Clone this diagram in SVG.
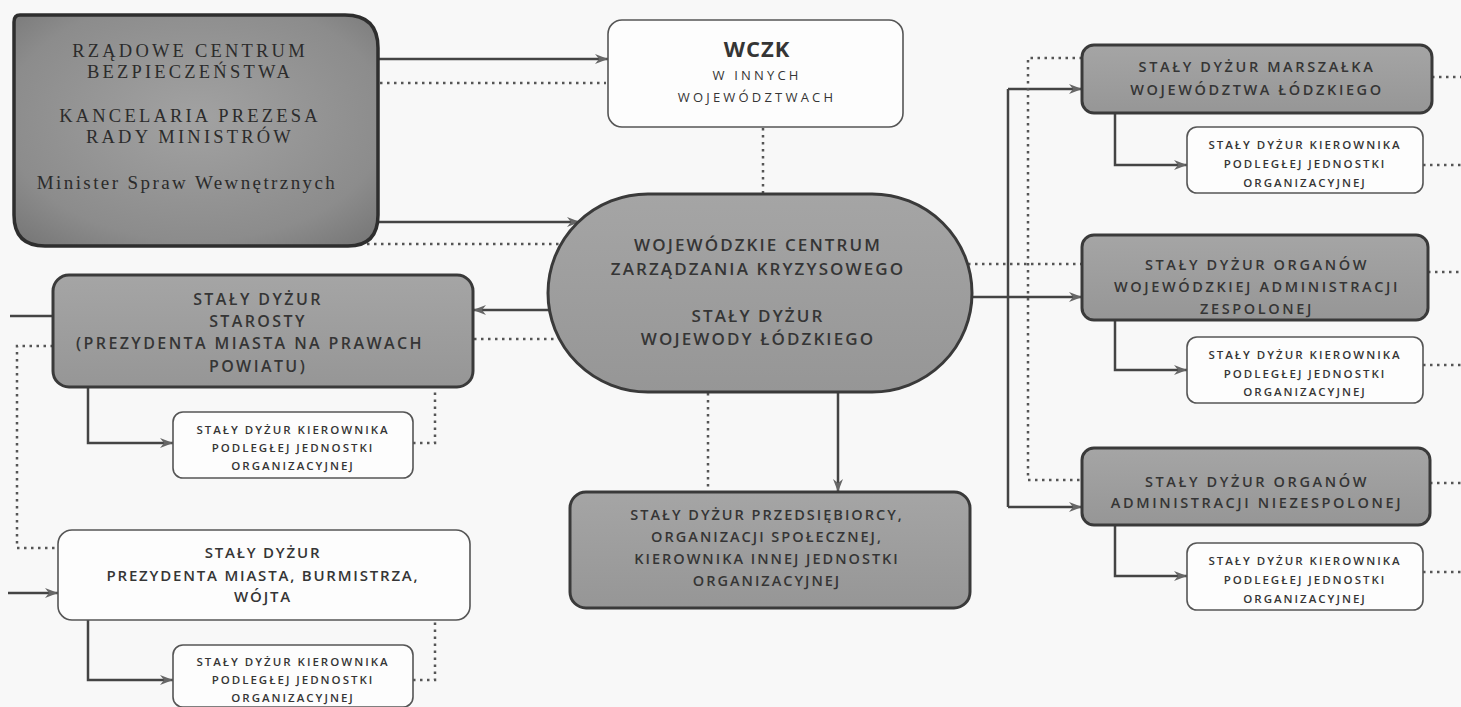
<svg xmlns="http://www.w3.org/2000/svg" width="1461" height="707" viewBox="0 0 1461 707">
<defs>
<marker id="arr" markerUnits="userSpaceOnUse" markerWidth="14" markerHeight="12" viewBox="0 0 14 12" refX="13" refY="6" orient="auto">
<path d="M0,1 L13,6 L0,11 L4,6 Z" fill="#666"/>
</marker>
<radialGradient id="gRcb" cx="0.5" cy="0.45" r="0.75">
<stop offset="0" stop-color="#a2a2a2"/>
<stop offset="0.7" stop-color="#8c8c8c"/>
<stop offset="1" stop-color="#737373"/>
</radialGradient>
<linearGradient id="gGray" x1="0" y1="0" x2="0" y2="1">
<stop offset="0" stop-color="#a5a5a5"/>
<stop offset="1" stop-color="#969696"/>
</linearGradient>
</defs>
<style>
.bg{fill:#f8f8f8}
.gray{fill:url(#gGray);stroke:#3a3a3a;stroke-width:3}
.white{fill:#fdfdfd;stroke:#555;stroke-width:1.6}
.solid{fill:none;stroke:#444;stroke-width:2.5}
.dot{fill:none;stroke:#555;stroke-width:2.5;stroke-dasharray:2.5 4.5}
text{font-family:"Open Sans","DejaVu Sans",sans-serif;fill:#353535;text-anchor:middle}
.serif{font-family:"Liberation Serif","DejaVu Serif",serif;font-size:18.5px;fill:#2b2b2b;letter-spacing:3.2px}
.serif2{font-family:"Liberation Serif","DejaVu Serif",serif;font-size:19px;fill:#2b2b2b;letter-spacing:2.4px}
.ell{font-size:17px;font-weight:600;letter-spacing:2.1px}
.staro{font-size:16px;font-weight:600;letter-spacing:2.4px}
.prez{font-size:15px;font-weight:600;letter-spacing:1.8px}
.mid{font-size:14.5px;font-weight:600;letter-spacing:2px}
.rbox{font-size:14.5px;font-weight:600;letter-spacing:2.6px}
.sub{font-size:11.5px;font-weight:600;letter-spacing:2px}
.wz{font-size:22px;font-weight:700;letter-spacing:1px}
.wz2{font-size:13px;letter-spacing:3.2px}
</style>
<rect class="bg" x="0" y="0" width="1461" height="707"/>

<g id="connectors">
<path class="solid" d="M378,59 H608" marker-end="url(#arr)"/>
<path class="solid" d="M378,222 H580" marker-end="url(#arr)"/>
<path class="solid" d="M550,310 H473" marker-end="url(#arr)"/>
<path class="solid" d="M972,297 H1082" marker-end="url(#arr)"/>
<path class="solid" d="M1008,89 V507"/>
<path class="solid" d="M1008,89 H1082" marker-end="url(#arr)"/>
<path class="solid" d="M1008,507 H1082" marker-end="url(#arr)"/>
<path class="solid" d="M1115,113 V165 H1187" marker-end="url(#arr)"/>
<path class="solid" d="M1115,320 V370 H1187" marker-end="url(#arr)"/>
<path class="solid" d="M1115,525 V576 H1187" marker-end="url(#arr)"/>
<path class="solid" d="M88,387 V443 H173" marker-end="url(#arr)"/>
<path class="solid" d="M88,620 V680 H173" marker-end="url(#arr)"/>
<path class="solid" d="M10,316 H53"/>
<path class="solid" d="M8,593 H58" marker-end="url(#arr)"/>
<path class="solid" d="M838,392 V492" marker-end="url(#arr)"/>

<path class="dot" d="M380,83 H606"/>
<path class="dot" d="M360,244 H562"/>
<path class="dot" d="M763,128 V194"/>
<path class="dot" d="M474,339 H558"/>
<path class="dot" d="M53,346 H17 V548 H58"/>
<path class="dot" d="M413,443 H435 V388"/>
<path class="dot" d="M413,680 H435 V621"/>
<path class="dot" d="M708,393 V492"/>
<path class="dot" d="M968,264 H1082"/>
<path class="dot" d="M1082,58 H1028 V480 H1082"/>
<path class="dot" d="M1432,77 H1461"/>
<path class="dot" d="M1423,165 H1461"/>
<path class="dot" d="M1428,272 H1461"/>
<path class="dot" d="M1423,365 H1461"/>
<path class="dot" d="M1430,483 H1461"/>
<path class="dot" d="M1423,572 H1461"/>
</g>

<g id="rcb">
<path d="M20,15 H345 Q378,15 378,48 V215 Q378,246 348,246 H45 Q14,246 14,215 V22 Q14,15 20,15 Z" fill="url(#gRcb)" stroke="#2e2e2e" stroke-width="3.5"/>
<text class="serif" x="190" y="57">RZĄDOWE CENTRUM</text>
<text class="serif" x="190" y="78">BEZPIECZEŃSTWA</text>
<text class="serif" x="190" y="122">KANCELARIA PREZESA</text>
<text class="serif" x="190" y="143">RADY MINISTRÓW</text>
<text class="serif2" x="187" y="189">Minister Spraw Wewnętrznych</text>
</g>

<g id="wczk">
<rect class="white" x="608" y="20" width="295" height="107" rx="14" stroke-width="2"/>
<text class="wz" x="757" y="57">WCZK</text>
<text class="wz2" x="757" y="80">W INNYCH</text>
<text class="wz2" x="757" y="102">WOJEWÓDZTWACH</text>
</g>

<g id="wczk-center">
<rect class="gray" x="548" y="194" width="424" height="198" rx="100" ry="99"/>
<text class="ell" x="758" y="251">WOJEWÓDZKIE CENTRUM</text>
<text class="ell" x="758" y="275">ZARZĄDZANIA KRYZYSOWEGO</text>
<text class="ell" x="758" y="322">STAŁY DYŻUR</text>
<text class="ell" x="758" y="345">WOJEWODY ŁÓDZKIEGO</text>
</g>

<g id="starosta">
<rect class="gray" x="53" y="275" width="420" height="112" rx="16"/>
<text class="staro" x="258" y="305">STAŁY DYŻUR</text>
<text class="staro" x="258" y="327">STAROSTY</text>
<text class="staro" x="250" y="349">(PREZYDENTA MIASTA NA PRAWACH</text>
<text class="staro" x="258" y="372">POWIATU)</text>
</g>

<g id="starosta-sub">
<rect class="white" x="173" y="412" width="240" height="66" rx="10"/>
<text class="sub" x="293" y="434">STAŁY DYŻUR KIEROWNIKA</text>
<text class="sub" x="293" y="452">PODLEGŁEJ JEDNOSTKI</text>
<text class="sub" x="293" y="470">ORGANIZACYJNEJ</text>
</g>

<g id="prezydent">
<rect class="white" x="58" y="530" width="412" height="90" rx="14" stroke-width="2"/>
<text class="prez" x="263" y="558">STAŁY DYŻUR</text>
<text class="prez" x="263" y="581">PREZYDENTA MIASTA, BURMISTRZA,</text>
<text class="prez" x="263" y="602">WÓJTA</text>
</g>

<g id="prezydent-sub">
<rect class="white" x="173" y="645" width="240" height="62" rx="10"/>
<text class="sub" x="293" y="666">STAŁY DYŻUR KIEROWNIKA</text>
<text class="sub" x="293" y="684">PODLEGŁEJ JEDNOSTKI</text>
<text class="sub" x="293" y="702">ORGANIZACYJNEJ</text>
</g>

<g id="przedsiebiorca">
<rect class="gray" x="570" y="492" width="400" height="116" rx="16"/>
<text class="mid" x="767" y="520">STAŁY DYŻUR PRZEDSIĘBIORCY,</text>
<text class="mid" x="767" y="542">ORGANIZACJI SPOŁECZNEJ,</text>
<text class="mid" x="767" y="564">KIEROWNIKA INNEJ JEDNOSTKI</text>
<text class="mid" x="767" y="586">ORGANIZACYJNEJ</text>
</g>

<g id="marszalek">
<rect class="gray" x="1082" y="45" width="350" height="68" rx="12"/>
<text class="rbox" x="1257" y="72">STAŁY DYŻUR MARSZAŁKA</text>
<text class="rbox" x="1257" y="95">WOJEWÓDZTWA ŁÓDZKIEGO</text>
</g>

<g id="marszalek-sub">
<rect class="white" x="1187" y="127" width="236" height="66" rx="10"/>
<text class="sub" x="1305" y="149">STAŁY DYŻUR KIEROWNIKA</text>
<text class="sub" x="1305" y="168">PODLEGŁEJ JEDNOSTKI</text>
<text class="sub" x="1305" y="187">ORGANIZACYJNEJ</text>
</g>

<g id="zespolona">
<rect class="gray" x="1082" y="235" width="346" height="85" rx="12"/>
<text class="rbox" x="1257" y="270">STAŁY DYŻUR ORGANÓW</text>
<text class="rbox" x="1257" y="292">WOJEWÓDZKIEJ ADMINISTRACJI</text>
<text class="rbox" x="1257" y="314">ZESPOLONEJ</text>
</g>

<g id="zespolona-sub">
<rect class="white" x="1187" y="337" width="236" height="66" rx="10"/>
<text class="sub" x="1305" y="359">STAŁY DYŻUR KIEROWNIKA</text>
<text class="sub" x="1305" y="378">PODLEGŁEJ JEDNOSTKI</text>
<text class="sub" x="1305" y="396">ORGANIZACYJNEJ</text>
</g>

<g id="niezespolona">
<rect class="gray" x="1082" y="448" width="348" height="77" rx="12"/>
<text class="rbox" x="1257" y="487">STAŁY DYŻUR ORGANÓW</text>
<text class="rbox" x="1257" y="508">ADMINISTRACJI NIEZESPOLONEJ</text>
</g>

<g id="niezespolona-sub">
<rect class="white" x="1187" y="543" width="236" height="67" rx="10"/>
<text class="sub" x="1305" y="565">STAŁY DYŻUR KIEROWNIKA</text>
<text class="sub" x="1305" y="584">PODLEGŁEJ JEDNOSTKI</text>
<text class="sub" x="1305" y="603">ORGANIZACYJNEJ</text>
</g>
</svg>
